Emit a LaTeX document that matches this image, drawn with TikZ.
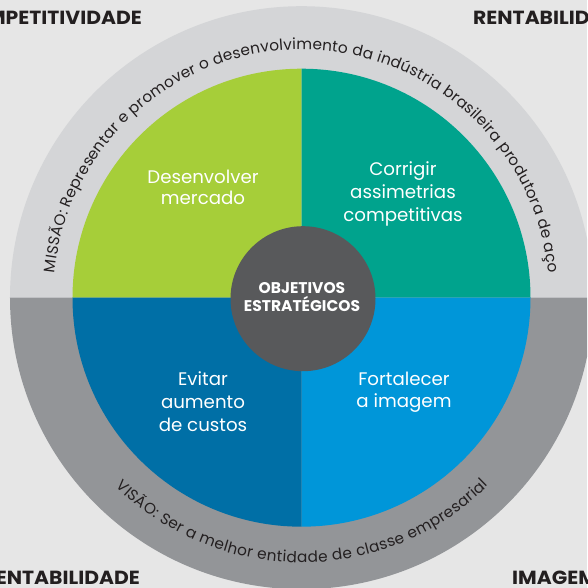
\documentclass[tikz,border=0pt]{standalone}
\usepackage{fontspec}
\usepackage{graphicx}
\setmainfont{Poppins}
\usetikzlibrary{decorations.text}
\definecolor{bgcol}{HTML}{E6E6E6}
\definecolor{ringup}{HTML}{D4D5D7}
\definecolor{ringlow}{HTML}{939598}
\definecolor{qgreen}{HTML}{A6CE39}
\definecolor{qteal}{HTML}{00A38D}
\definecolor{qdblue}{HTML}{006FA6}
\definecolor{qlblue}{HTML}{0096D9}
\definecolor{centercol}{HTML}{58595B}
\definecolor{darktext}{HTML}{231F20}
\tikzset{
  quadtext/.style={text=white, align=center, anchor=base, inner sep=0pt,
    font=\fontsize{18.2}{22}\selectfont},
  cornerlabel/.style={text=darktext, inner sep=0pt,
    font=\fontsize{19}{20}\selectfont\bfseries},
  centertext/.style={text=white, align=center, anchor=base, inner sep=0pt,
    font=\fontsize{15.5}{18}\selectfont\bfseries},
}
\begin{document}
\begin{tikzpicture}[x=1pt,y=1pt]
\clip (-301.5,-290.3) rectangle (285.5,297.7);
\fill[bgcol] (-301.5,-290.3) rectangle (285.5,297.7);
% ring halves
\fill[ringup] (0:291.5pt) arc[start angle=0,end angle=180,radius=291.5pt] -- cycle;
\fill[ringlow] (180:291.5pt) arc[start angle=180,end angle=360,radius=291.5pt] -- cycle;
% quadrants
\fill[qgreen] (0,0) -- (90:229pt) arc[start angle=90,end angle=180,radius=229pt] -- cycle;
\fill[qteal] (0,0) -- (0:229pt) arc[start angle=0,end angle=90,radius=229pt] -- cycle;
\fill[qdblue] (0,0) -- (180:229pt) arc[start angle=180,end angle=270,radius=229pt] -- cycle;
\fill[qlblue] (0,0) -- (270:229pt) arc[start angle=270,end angle=360,radius=229pt] -- cycle;
% center
\fill[centercol] (1.5,-1) circle[radius=72.5pt];
\node[centertext] (obj) at (0.5,-14.3) {OBJETIVOS\\ESTRATÉGICOS};
% quadrant texts (anchor = baseline of last line)
\node[quadtext, font=\fontsize{18.2}{21}\selectfont] (q1) at (-98.5,92.7) {Desenvolver\\mercado};
\node[quadtext, font=\fontsize{18.2}{23}\selectfont] (q2) at (101.5,75.7) {Corrigir\\assimetrias\\competitivas};
\node[quadtext, font=\fontsize{18.2}{23}\selectfont] (q3) at (-98.5,-133.3) {Evitar\\aumento\\de custos};
\node[quadtext, font=\fontsize{18.2}{22}\selectfont] (q4) at (102.5,-109.3) {Fortalecer\\a imagem};
% ring texts
\path[decorate, decoration={text along path, text align={fit to path},
  text={|\fontsize{15.3}{15}\selectfont\color{darktext}|MISSÃO: Representar e promover o desenvolvimento da indústria brasileira produtora de aço}}]
  (174.3:248pt) arc[start angle=174.3,end angle=5.7,radius=248pt];
\path[decorate, decoration={text along path, text align={fit to path},
  text={|\fontsize{15.3}{15}\selectfont\color{darktext}|VISÃO: Ser a melhor entidade de classe empresarial}}]
  (225.5:265pt) arc[start angle=225.5,end angle=314.8,radius=265pt];
% corner labels
\node[cornerlabel, anchor=base east] (c1) at (-159.5,272.7) {\scalebox{1.07}[1]{COMPETITIVIDADE}};
\node[cornerlabel, anchor=base west] (c2) at (171.5,272.7) {\scalebox{1.07}[1]{RENTABILIDADE}};
\node[cornerlabel, anchor=base east] (c3) at (-161.5,-286.3) {\scalebox{1.07}[1]{RENTABILIDADE}};
\node[cornerlabel, anchor=base west] (c4) at (210.5,-286.3) {\scalebox{1.07}[1]{IMAGEM}};
\end{tikzpicture}
\end{document}
